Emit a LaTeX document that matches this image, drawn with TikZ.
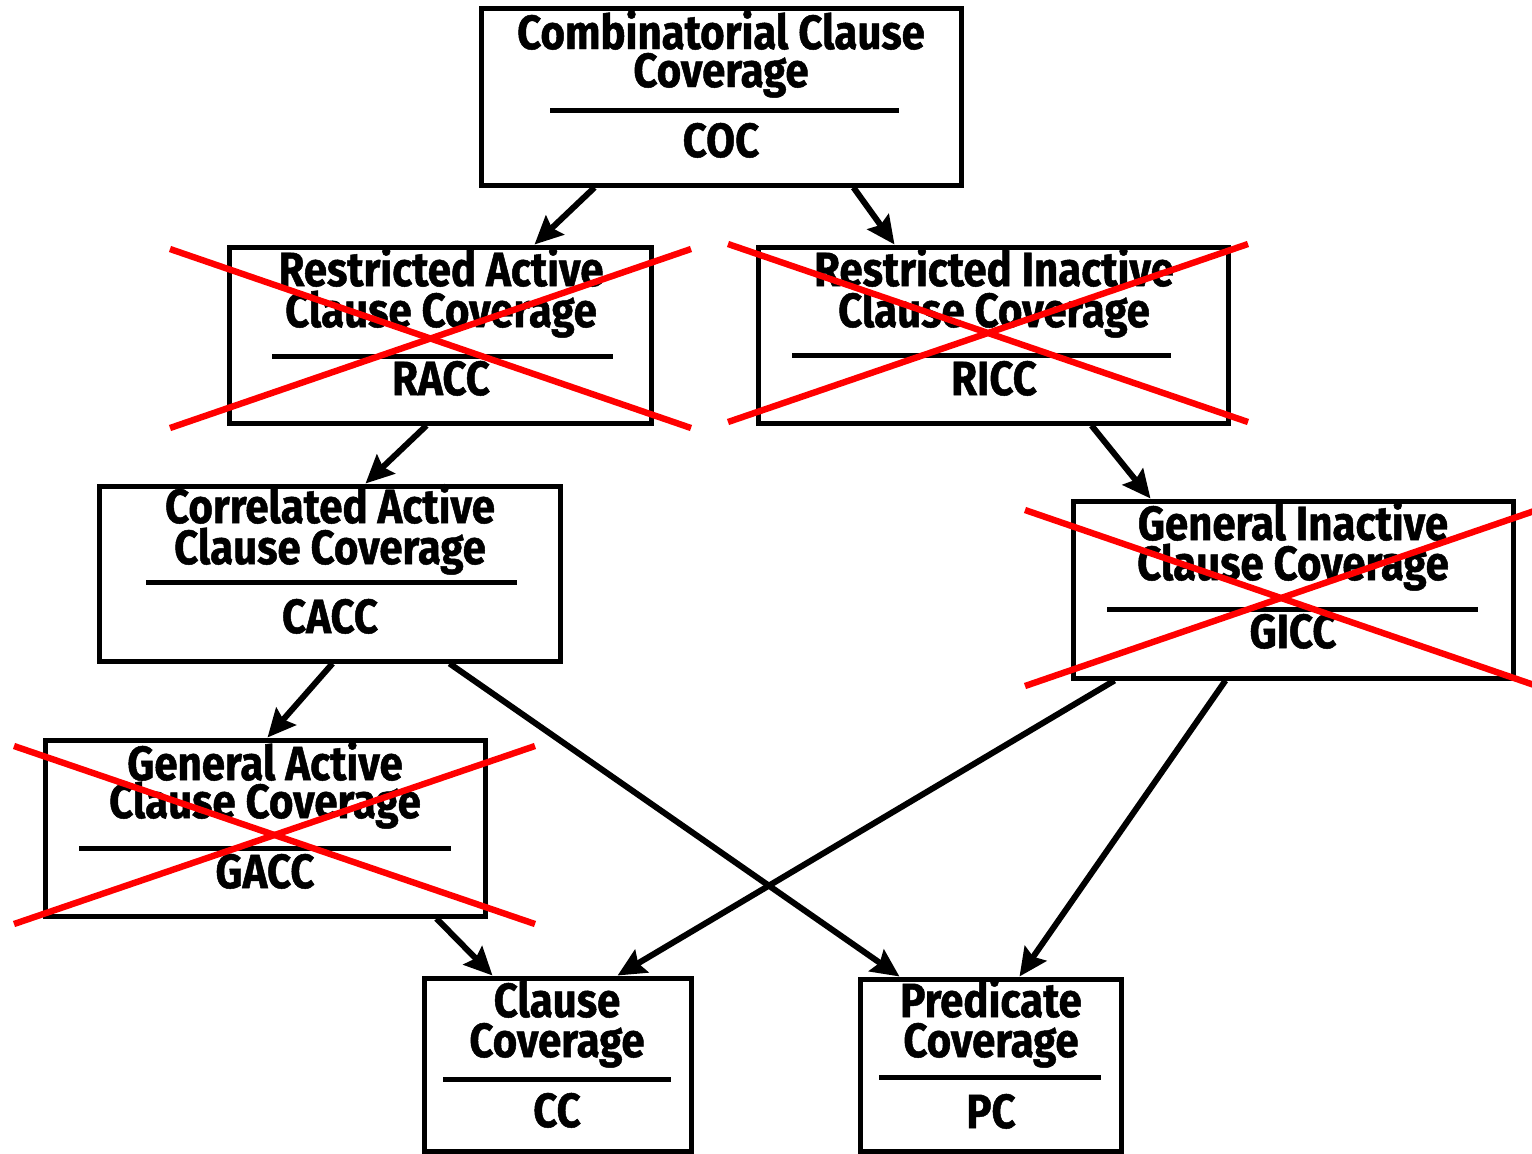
\documentclass[tikz,border=0pt]{standalone}
\usepackage{fontspec}
\newfontfamily\boxfont{Fira Sans}[FakeStretch=0.875,FakeBold=1]
\usetikzlibrary{arrows.meta,calc,fit}
\tikzset{
  critbox/.style={draw, line width=2.5pt, inner sep=0pt, fill=white},
  lbl/.style={anchor=base, inner sep=0pt, font=\boxfont\bfseries\fontsize{24pt}{20pt}\selectfont},
  rulebar/.style={line width=2.5pt},
  cross/.style={red, line width=3.2pt},
  arr/.style={line width=3pt, -{Stealth[length=14pt,width=13pt,inset=2pt]}}
}
\begin{document}
\begin{tikzpicture}[x=0.5pt,y=-0.5pt]
\useasboundingbox (0,0) rectangle (1532,1153);

% boxes
\node[critbox, fit={(481,8)(961,185)}] (coc) {};
\node[critbox, fit={(229,247)(651,423)}] (racc) {};
\node[critbox, fit={(758,247)(1228,423)}] (ricc) {};
\node[critbox, fit={(99,486)(560,661)}] (cacc) {};
\node[critbox, fit={(1073,501)(1513,678)}] (gicc) {};
\node[critbox, fit={(45,740)(485,916)}] (gacc) {};
\node[critbox, fit={(424,978)(691,1151)}] (cc) {};
\node[critbox, fit={(860,979)(1121,1151)}] (pc) {};

% texts
\node[lbl] (coc1) at (721,49) {Combinatorial Clause};
\node[lbl] (coc2) at (721,87) {Coverage};
\node[lbl] (coc3) at (721,157) {COC};
\draw[rulebar] (550,110) -- (899,110);

\node[lbl] (racc1) at (441,286) {Restricted Active};
\node[lbl] (racc2) at (441,327) {Clause Coverage};
\node[lbl] (racc3) at (441,395) {RACC};
\draw[rulebar] (272,356) -- (613,356);

\node[lbl] (ricc1) at (994,286) {Restricted Inactive};
\node[lbl] (ricc2) at (994,327) {Clause Coverage};
\node[lbl] (ricc3) at (994,395) {RICC};
\draw[rulebar] (792,355) -- (1171,355);

\node[lbl] (cacc1) at (330,523) {Correlated Active};
\node[lbl] (cacc2) at (330,564) {Clause Coverage};
\node[lbl] (cacc3) at (330,633) {CACC};
\draw[rulebar] (146,582) -- (517,582);

\node[lbl] (gicc1) at (1293,540) {General Inactive};
\node[lbl] (gicc2) at (1293,580) {Clause Coverage};
\node[lbl] (gicc3) at (1293,648) {GICC};
\draw[rulebar] (1107,609) -- (1478,609);

\node[lbl] (gacc1) at (265,780) {General Active};
\node[lbl] (gacc2) at (265,818) {Clause Coverage};
\node[lbl] (gacc3) at (265,888) {GACC};
\draw[rulebar] (79,848) -- (451,848);

\node[lbl] (cc1) at (557,1017) {Clause};
\node[lbl] (cc2) at (557,1057) {Coverage};
\node[lbl] (cc3) at (557,1127) {CC};
\draw[rulebar] (443,1079) -- (671,1079);

\node[lbl] (pc1) at (991,1017) {Predicate};
\node[lbl] (pc2) at (991,1057) {Coverage};
\node[lbl] (pc3) at (991,1128) {PC};
\draw[rulebar] (879,1077) -- (1101,1077);

% arrows
\draw[arr] ($(coc.south west)+(116,0)$) -- ($(racc.north west)+(308,0)$);
\draw[arr] ($(coc.south west)+(375,0)$) -- ($(ricc.north west)+(139,0)$);
\draw[arr] ($(racc.south west)+(200,0)$) -- ($(cacc.north west)+(269,0)$);
\draw[arr] ($(ricc.south west)+(336,0)$) -- ($(gicc.north west)+(80,0)$);
\draw[arr] ($(cacc.south west)+(236,0)$) -- ($(gacc.north west)+(225,0)$);
\draw[arr] ($(cacc.south west)+(353,0)$) -- ($(pc.north west)+(42,0)$);
\draw[arr] ($(gicc.south west)+(44,0)$) -- ($(cc.north west)+(196,0)$);
\draw[arr] ($(gicc.south west)+(155,0)$) -- ($(pc.north west)+(162,0)$);
\draw[arr] ($(gacc.south west)+(394,0)$) -- ($(cc.north west)+(71,0)$);

% red crosses
\draw[cross] (170,249) -- (691,428);
\draw[cross] (170,428) -- (691,249);
\draw[cross] (728,244) -- (1248,422);
\draw[cross] (728,422) -- (1248,244);
\draw[cross] (1025,510) -- (1540,687);
\draw[cross] (1025,686) -- (1540,509);
\draw[cross] (14,746) -- (535,924);
\draw[cross] (14,924) -- (535,746);
\end{tikzpicture}
\end{document}
